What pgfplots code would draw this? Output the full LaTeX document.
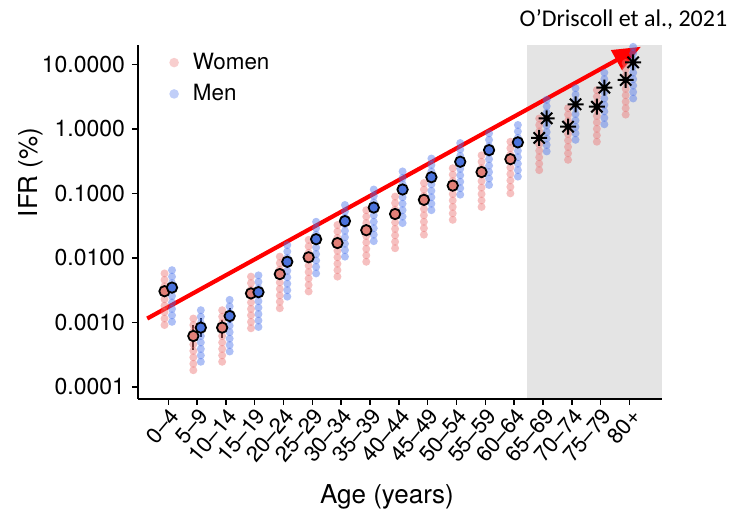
\documentclass[border=0pt]{standalone}
\usepackage{fontspec}
\setmainfont{TeX Gyre Heros}
\newfontfamily\cit{Carlito}
\usepackage{pgfplots}
\usepackage{pgfplotstable}
\pgfplotsset{compat=1.18}
\usetikzlibrary{arrows.meta}

\definecolor{wcol}{RGB}{235,115,115}
\definecolor{mcol}{RGB}{75,115,235}
\definecolor{wmed}{RGB}{226,128,120}
\definecolor{mmed}{RGB}{75,115,220}
\definecolor{shade}{RGB}{228,228,228}

\pgfdeclareplotmark{ast8}{%
  \pgfpathmoveto{\pgfqpoint{-\pgfplotmarksize}{0pt}}\pgfpathlineto{\pgfqpoint{\pgfplotmarksize}{0pt}}%
  \pgfpathmoveto{\pgfqpoint{0pt}{-\pgfplotmarksize}}\pgfpathlineto{\pgfqpoint{0pt}{\pgfplotmarksize}}%
  \pgfpathmoveto{\pgfqpoint{-0.7071\pgfplotmarksize}{-0.7071\pgfplotmarksize}}\pgfpathlineto{\pgfqpoint{0.7071\pgfplotmarksize}{0.7071\pgfplotmarksize}}%
  \pgfpathmoveto{\pgfqpoint{-0.7071\pgfplotmarksize}{0.7071\pgfplotmarksize}}\pgfpathlineto{\pgfqpoint{0.7071\pgfplotmarksize}{-0.7071\pgfplotmarksize}}%
  \pgfusepathqstroke}
\pgfdeclareplotmark{dot}{%
  \pgfpathcircle{\pgfpoint{0pt}{0pt}}{\pgfplotmarksize}\pgfusepathqfill}

% country-level IFR estimates, women (x = age group index - 0.13)
\pgfplotstableread{
x a b c d e f g h i
-0.13 0.00575 0.00457 0.00363 0.00288 0.00229 0.00182 0.00145 0.00115 0.000912
0.87 0.00115 0.000912 0.000724 0.000575 0.000457 0.000363 0.000288 0.000229 0.000182
1.87 0.001549 0.00123 0.000977 0.000776 0.000617 0.00049 0.000389 0.000309 0.000246
2.87 0.00513 0.00407 0.00324 0.00257 0.00204 0.00162 0.00129 0.00102 0.000813
3.87 0.01047 0.00832 0.00661 0.00525 0.00417 0.00331 0.00263 0.00209 0.00166
4.87 0.01905 0.01514 0.01202 0.00955 0.00759 0.00603 0.00479 0.0038 0.00302
5.87 0.03236 0.0257 0.02042 0.01622 0.01288 0.01023 0.00813 0.00646 0.00513
6.87 0.05495 0.04365 0.03467 0.02754 0.02188 0.01738 0.0138 0.01096 0.00871
7.87 0.08913 0.07079 0.05623 0.04467 0.03548 0.02818 0.02239 0.01778 0.01413
8.87 0.1445 0.1148 0.0912 0.07244 0.05754 0.04571 0.03631 0.02884 0.02291
9.87 0.2455 0.195 0.1549 0.123 0.09772 0.07762 0.06166 0.04898 0.0389
10.87 0.389 0.309 0.2455 0.195 0.1549 0.123 0.09772 0.07762 0.06166
11.87 0.631 0.501 0.398 0.316 0.251 0.1995 0.1585 0.1259 0.1
12.87 1.445 1.148 0.912 0.7244 0.5754 0.4571 0.3631 0.2884 0.2291
13.87 2.089 1.66 1.318 1.047 0.8318 0.6607 0.5248 0.4169 0.3311
14.87 3.981 3.162 2.512 1.995 1.585 1.259 1.0 0.7943 0.631
15.87 10.47 8.318 6.607 5.248 4.169 3.311 2.63 2.089 1.66
}\womendots

% men (x = age group index + 0.13)
\pgfplotstableread{
x a b c d e f g h i
0.13 0.006457 0.005129 0.004074 0.003236 0.00257 0.002042 0.001622 0.001288 0.001023
1.13 0.001549 0.00123 0.000977 0.000776 0.000617 0.00049 0.000389 0.000309 0.000246
2.13 0.002239 0.001778 0.001413 0.001122 0.000891 0.000708 0.000562 0.000447 0.000355
3.13 0.00537 0.004266 0.003388 0.002692 0.002138 0.001698 0.001349 0.001072 0.000851
4.13 0.01585 0.01259 0.01 0.007943 0.00631 0.005012 0.003981 0.003162 0.002512
5.13 0.03631 0.02884 0.02291 0.0182 0.01445 0.01148 0.00912 0.007244 0.005754
6.13 0.06607 0.05248 0.04169 0.03311 0.0263 0.02089 0.0166 0.01318 0.01047
7.13 0.1148 0.0912 0.07244 0.05754 0.04571 0.03631 0.02884 0.02291 0.0182
8.13 0.2188 0.1738 0.138 0.1096 0.0871 0.06918 0.05495 0.04365 0.03467
9.13 0.3467 0.2754 0.2188 0.1738 0.138 0.1096 0.0871 0.06918 0.05495
10.13 0.6026 0.4786 0.3802 0.302 0.2399 0.1905 0.1514 0.1202 0.0955
11.13 0.8511 0.6761 0.537 0.4266 0.3388 0.2692 0.2138 0.1698 0.1349
12.13 1.148 0.912 0.7244 0.5754 0.4571 0.3631 0.2884 0.2291 0.182
13.13 2.818 2.239 1.778 1.413 1.122 0.8913 0.7079 0.5623 0.4467
14.13 4.266 3.388 2.692 2.138 1.698 1.349 1.072 0.8511 0.6761
15.13 7.413 5.888 4.677 3.715 2.951 2.344 1.862 1.479 1.175
16.13 18.62 14.79 11.75 9.333 7.413 5.888 4.677 3.715 2.951
}\mendots

\pgfplotstableread{
x y
-0.13 0.00305
0.87 0.000617
1.87 0.000832
2.87 0.00282
3.87 0.00562
4.87 0.01023
5.87 0.0170
6.87 0.0269
7.87 0.0479
8.87 0.0794
9.87 0.1318
10.87 0.2138
11.87 0.339
}\womenmed

\pgfplotstableread{
x y
12.87 0.724
13.87 1.08
14.87 2.20
15.87 5.71
}\womenstar

\pgfplotstableread{
x y
0.13 0.00347
1.13 0.000832
2.13 0.00126
3.13 0.00295
4.13 0.00871
5.13 0.0195
6.13 0.0372
7.13 0.0603
8.13 0.1148
9.13 0.178
10.13 0.309
11.13 0.468
12.13 0.617
}\menmed

\pgfplotstableread{
x y
13.13 1.455
14.13 2.40
15.13 4.34
16.13 10.7
}\menstar

\begin{document}
\begin{tikzpicture}
\useasboundingbox (-69pt,-59.5pt) rectangle (301pt,199.5pt);
\begin{axis}[
  at={(0,0)}, anchor=south west,
  width=262pt, height=177pt, scale only axis,
  ymode=log,
  xmin=-1.05, xmax=17.13, ymin=6.52e-5, ymax=19.9,
  clip=false, axis on top,
  axis x line*=bottom, axis y line*=left,
  axis line style={line width=1pt, -},
  tick align=outside, major tick length=3pt,
  tick style={black, line width=0.75pt},
  yminorticks=false, xminorticks=false,
  xtick={0,...,16},
  xticklabels={0–4,5–9,10–14,15–19,20–24,25–29,30–34,35–39,40–44,45–49,50–54,55–59,60–64,65–69,70–74,75–79,80+},
  xticklabel style={rotate=50, anchor=north east, inner sep=0.5pt, font=\fontsize{11}{12}\selectfont},
  ytick={0.0001,0.001,0.01,0.1,1,10},
  yticklabels={0.0001,0.0010,0.0100,0.1000,1.0000,10.0000},
  yticklabel style={font=\fontsize{11.5}{13}\selectfont},
  xlabel={Age (years)},
  every axis x label/.style={at={(axis description cs:0.475,-0.277)}, anchor=center, font=\fontsize{13}{15}\selectfont},
  legend style={at={(axis description cs:0.059,0.99)}, anchor=north west, draw=none, fill=none,
    font=\fontsize{11.2}{13}\selectfont, row sep=2pt, inner sep=0pt, column sep=5pt},
  legend cell align=left,
]
% shaded region for age 65+
\addplot[draw=none, fill=shade, forget plot] coordinates {(12.45,6.52e-5) (17.13,6.52e-5) (17.13,19.9) (12.45,19.9)} -- cycle;

\addlegendimage{only marks, mark=dot, mark size=2.4pt, color=wcol, fill opacity=0.35}
\addlegendentry{Women}
\addlegendimage{only marks, mark=dot, mark size=2.4pt, color=mcol, fill opacity=0.35}
\addlegendentry{Men}

\pgfplotsinvokeforeach{a,b,c,d,e,f,g,h,i}{
  \addplot[only marks, mark=dot, mark size=2pt, color=wcol, fill opacity=0.45, forget plot] table[x=x, y=#1]{\womendots};
}
\pgfplotsinvokeforeach{a,b,c,d,e,f,g,h,i}{
  \addplot[only marks, mark=dot, mark size=2pt, color=mcol, fill opacity=0.45, forget plot] table[x=x, y=#1]{\mendots};
}

% error bars
\addplot[black, line width=1pt, forget plot] coordinates {(0.87,0.000912) (0.87,0.000372)};
\addplot[black, line width=1pt, forget plot] coordinates {(1.13,0.00117) (1.13,0.000589)};
\addplot[black, line width=1pt, forget plot] coordinates {(1.87,0.0011) (1.87,0.000575)};
\addplot[black, line width=1pt, forget plot] coordinates {(2.13,0.00166) (2.13,0.00098)};

% medians
\addplot[only marks, mark=*, mark size=2.6pt, mark options={fill=wmed, draw=black, line width=0.9pt}, forget plot] table[x=x,y=y]{\womenmed};
\addplot[only marks, mark=*, mark size=2.6pt, mark options={fill=mmed, draw=black, line width=0.9pt}, forget plot] table[x=x,y=y]{\menmed};
\addplot[only marks, mark=ast8, mark size=4pt, mark options={draw=black, line width=1pt}, forget plot] table[x=x,y=y]{\womenstar};
\addplot[only marks, mark=ast8, mark size=4pt, mark options={draw=black, line width=1pt}, forget plot] table[x=x,y=y]{\menstar};

% trend arrow
\addplot[red, line width=2.1pt, -{Triangle[length=14pt,width=11pt]}, forget plot] coordinates {(-0.73,0.00115) (16.4,18.7)};

\node[rotate=90, anchor=center, font=\fontsize{13}{15}\selectfont] at (axis description cs:-0.205,0.64) {IFR (\%)};
\node[anchor=east, font=\cit\fontsize{12}{14}\selectfont] at (axis description cs:1.138,1.071) {O’Driscoll et al., 2021};
\end{axis}
\end{tikzpicture}
\end{document}
